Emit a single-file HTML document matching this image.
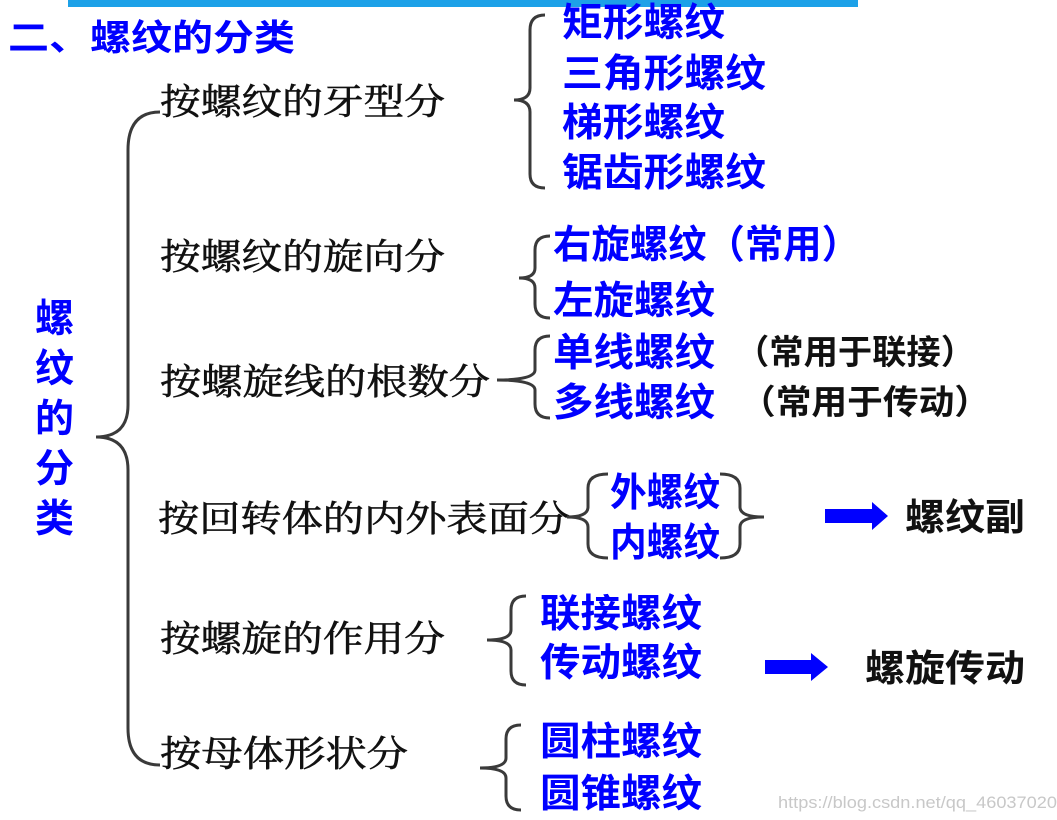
<!DOCTYPE html>
<html><head><meta charset="utf-8"><style>
html,body{margin:0;padding:0;background:#fff;}
svg{display:block}
.b{font-family:"Liberation Sans","Noto Sans CJK SC",sans-serif;font-weight:bold;fill:#0000ff;}
.k{font-family:"Liberation Serif","Noto Serif CJK SC",serif;fill:#111;stroke:#111;stroke-width:0.6;}
.kb{font-family:"Liberation Sans","Noto Sans CJK SC",sans-serif;font-weight:bold;fill:#111;}
.br{fill:none;stroke:#3a3a3a;stroke-width:3;}
</style></head><body>
<svg width="1057" height="820" viewBox="0 0 1057 820" xmlns="http://www.w3.org/2000/svg">
<rect x="0" y="0" width="1057" height="820" fill="#fff"/>
<rect x="68" y="0" width="790" height="7" fill="#1da1e8"/>

<text class="b" x="8" y="50" font-size="36" textLength="287" lengthAdjust="spacingAndGlyphs">二、螺纹的分类</text>

<g class="b" font-size="39">
<text x="35" y="332">螺</text><text x="35" y="382">纹</text><text x="35" y="432">的</text><text x="35" y="482">分</text><text x="35" y="532">类</text>
</g>

<path class="br" d="M160 112 Q128 112 128 150 L128 405 Q128 437 96 437 Q128 437 128 470 L128 728 Q128 765 160 765"/>

<g class="k" font-size="36">
<text x="160" y="114" textLength="285" lengthAdjust="spacingAndGlyphs">按螺纹的牙型分</text>
<text x="160" y="269" textLength="285" lengthAdjust="spacingAndGlyphs">按螺纹的旋向分</text>
<text x="160" y="394" textLength="330" lengthAdjust="spacingAndGlyphs">按螺旋线的根数分</text>
<text x="158" y="531" textLength="412" lengthAdjust="spacingAndGlyphs">按回转体的内外表面分</text>
<text x="160" y="651" textLength="285" lengthAdjust="spacingAndGlyphs">按螺旋的作用分</text>
<text x="160" y="766" textLength="248" lengthAdjust="spacingAndGlyphs">按母体形状分</text>
</g>

<path class="br" d="M545 15 Q530 15 530 30 L530 88 Q530 100 514 100 Q530 100 530 112 L530 174 Q530 188 545 188"/>
<path class="br" d="M550 236 Q535 236 535 250 L535 268 Q535 278 519 278 Q535 278 535 288 L535 304 Q535 318 550 318"/>
<path class="br" d="M550 336 Q535 336 535 350 L535 370 Q535 380 497 380 Q535 380 535 390 L535 404 Q535 418 550 418"/>
<path class="br" d="M608 474 Q588 474 588 488 L588 507 Q588 517 567 517 Q588 517 588 527 L588 544 Q588 558 608 558"/>
<path class="br" d="M720 474 Q740 474 740 488 L740 507 Q740 517 764 517 Q740 517 740 527 L740 544 Q740 558 720 558"/>
<path class="br" d="M526 596 Q511 596 511 610 L511 630 Q511 640 487 640 Q511 640 511 650 L511 671 Q511 685 526 685"/>
<path class="br" d="M521 725 Q506 725 506 739 L506 758 Q506 768 480 768 Q506 768 506 778 L506 796 Q506 810 521 810"/>

<g class="b" font-size="39">
<text x="562" y="36" textLength="163" lengthAdjust="spacingAndGlyphs">矩形螺纹</text>
<text x="562" y="87" textLength="204" lengthAdjust="spacingAndGlyphs">三角形螺纹</text>
<text x="562" y="136" textLength="163" lengthAdjust="spacingAndGlyphs">梯形螺纹</text>
<text x="562" y="186" textLength="204" lengthAdjust="spacingAndGlyphs">锯齿形螺纹</text>
<text x="553" y="258" textLength="307" lengthAdjust="spacingAndGlyphs">右旋螺纹（常用）</text>
<text x="553" y="314" textLength="162" lengthAdjust="spacingAndGlyphs">左旋螺纹</text>
<text x="553" y="366" textLength="162" lengthAdjust="spacingAndGlyphs">单线螺纹</text>
<text x="553" y="416" textLength="162" lengthAdjust="spacingAndGlyphs">多线螺纹</text>
<text x="610" y="506" textLength="110" lengthAdjust="spacingAndGlyphs">外螺纹</text>
<text x="610" y="556" textLength="110" lengthAdjust="spacingAndGlyphs">内螺纹</text>
<text x="540" y="627" textLength="162" lengthAdjust="spacingAndGlyphs">联接螺纹</text>
<text x="540" y="676" textLength="162" lengthAdjust="spacingAndGlyphs">传动螺纹</text>
<text x="540" y="755" textLength="162" lengthAdjust="spacingAndGlyphs">圆柱螺纹</text>
<text x="540" y="807" textLength="162" lengthAdjust="spacingAndGlyphs">圆锥螺纹</text>
</g>
<g class="kb" font-size="34">
<text x="735" y="364" textLength="240" lengthAdjust="spacingAndGlyphs">（常用于联接）</text>
<text x="740" y="414" textLength="250" lengthAdjust="spacingAndGlyphs">（常用于传动）</text>
<text x="905" y="530" font-size="37" textLength="120" lengthAdjust="spacingAndGlyphs">螺纹副</text>
<text x="865" y="681" font-size="37" textLength="160" lengthAdjust="spacingAndGlyphs">螺旋传动</text>
</g>

<polygon points="825,509 872,509 872,502 888,516 872,530 872,523 825,523" fill="#0000ff"/>
<polygon points="765,660 811,660 811,653 828,667 811,681 811,674 765,674" fill="#0000ff"/>

<text x="778" y="808" font-family="Liberation Sans,sans-serif" font-size="17" fill="#c8c8c8" textLength="279" lengthAdjust="spacingAndGlyphs">https://blog.csdn.net/qq_46037020</text>
</svg>
</body></html>
